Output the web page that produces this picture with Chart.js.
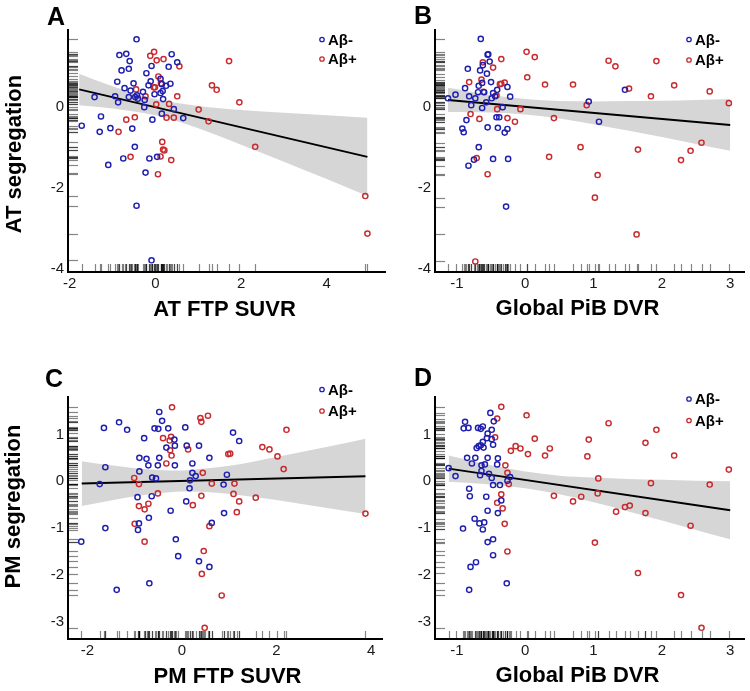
<!DOCTYPE html>
<html><head><meta charset="utf-8">
<script src="https://cdn.jsdelivr.net/npm/chart.js@4.4.1/dist/chart.umd.min.js"></script>
<style>
html,body{margin:0;padding:0;background:#fff;}
#wrap{position:relative;width:750px;height:691px;background:#fff;}
canvas{position:absolute;left:0;top:0;}
</style></head><body><div id="wrap">
<canvas id="cA" width="750" height="691"></canvas>
<canvas id="cB" width="750" height="691"></canvas>
<canvas id="cC" width="750" height="691"></canvas>
<canvas id="cD" width="750" height="691"></canvas>
</div>
<script>
// ---------- DATA ----------
const groups = ['Aβ-', 'Aβ+'];

// Panel A : AT FTP SUVR vs AT segregation
const aBlueX = [-0.44,-0.84,-0.68,-0.60,-0.62,-0.79,-0.89,-0.72,-0.51,-0.58,-1.42,-0.94,-0.87,-0.62,-0.47,-0.43,-0.41,-0.29,-0.21,-0.09,-0.16,-0.11,-0.02,-0.25,-0.26,0.38,0.51,0.31,0.12,0.15,0.25,0.35,0.17,0.12,0.18,0.43,0.65,0.15,-0.07,-1.27,-1.72,-1.30,-1.05,-0.54,-0.48,-0.75,-0.14,0.04,-1.10,-0.23,-0.44,-0.09];
const aBlueY = [1.68,1.29,1.32,1.14,0.95,0.91,0.63,0.47,0.59,0.41,0.25,0.27,0.12,0.25,0.25,0.29,0.21,0.38,0.84,1.02,0.54,0.64,0.32,0.18,0.00,1.31,1.11,1.00,0.70,0.57,0.53,0.58,0.40,0.35,0.20,-0.05,-0.27,-0.16,-0.31,-0.23,-0.46,-0.61,-0.52,-0.53,-0.98,-1.27,-1.27,-1.23,-1.43,-1.62,-2.44,-3.79];
const aRedX = [-0.03,-0.12,0.19,0.03,0.56,1.72,0.07,0.13,-0.04,-0.01,-0.45,-0.23,0.51,0.32,0.02,1.32,1.43,1.96,1.01,1.24,0.26,0.43,-0.48,-0.68,-0.86,0.16,0.18,0.21,0.12,0.37,-0.58,0.06,2.33,4.90,4.95];
const aRedY = [1.37,1.27,1.19,1.16,1.01,1.14,0.76,0.59,0.49,0.49,0.44,0.27,0.27,0.08,0.07,0.54,0.43,0.12,-0.06,-0.35,-0.26,-0.26,-0.25,-0.31,-0.61,-0.86,-1.05,-1.07,-1.22,-1.31,-1.23,-1.66,-0.98,-2.20,-3.13];
const aFitX = [-1.78, 4.95];
const aFitY = [0.44, -1.23];
const aBandX = [-1.78,-1,0,1,2,3,4,4.95];
const aBandLo = [0.05,-0.03,-0.20,-0.52,-0.93,-1.35,-1.78,-2.20];
const aBandHi = [0.83,0.52,0.20,0.03,-0.07,-0.14,-0.20,-0.26];
const aXTicks = [-2,0,2,4];
const aYTicks = [-4,-2,0];

// Panel B : Global PiB DVR vs AT segregation
const bBlueX = [-0.65,-0.55,-0.54,-0.52,-0.62,-0.84,-0.66,-0.56,-0.50,-0.63,-0.68,-0.88,-0.60,-0.69,-0.41,-0.26,-0.47,-0.44,-0.82,-1.02,-1.13,-0.73,-0.22,-0.49,-0.79,-0.57,-0.63,-0.33,-0.42,-0.38,-0.86,-0.55,-0.40,-0.26,-0.92,-0.90,-0.30,-0.68,-0.75,-0.47,-0.25,-0.83,-0.28,0.93,1.08,1.46];
const bBlueY = [1.69,1.30,1.31,1.13,1.04,0.95,0.91,0.83,0.62,0.60,0.53,0.47,0.37,0.37,0.43,0.50,0.35,0.27,0.27,0.31,0.22,0.22,0.26,0.22,0.05,0.12,-0.02,0.00,-0.25,-0.25,-0.32,-0.50,-0.51,-0.54,-0.53,-0.62,-0.63,-0.99,-1.30,-1.28,-1.28,-1.45,-2.46,0.14,-0.36,0.43];
const bRedX = [-0.62,-0.35,-0.47,-0.64,-0.82,-0.61,-0.37,-0.35,-0.30,-0.42,-0.41,-0.80,-0.67,-0.26,-0.15,-0.07,0.02,0.14,0.03,0.29,0.42,0.35,-0.71,-0.55,-0.73,0.70,0.90,0.81,1.06,1.02,1.22,1.32,1.52,1.84,1.92,2.18,2.70,2.98,1.65,2.28,2.42,2.58,1.63];
const bRedY = [1.11,1.19,0.98,0.68,0.62,0.38,0.57,0.58,0.61,0.29,-0.05,-0.17,-0.29,-0.27,-0.36,-0.05,1.37,1.24,0.74,0.56,-0.27,-1.23,-1.26,-1.66,-3.82,0.56,0.05,-0.99,-1.68,-2.24,1.15,1.01,0.46,0.27,1.14,0.54,0.39,0.10,-1.05,-1.31,-1.08,-0.88,-3.15];
const bFitX = [-1.13, 3.0];
const bFitY = [0.18, -0.44];
const bBandX = [-1.13,-0.5,0,0.5,1,1.5,2,2.5,3];
const bBandLo = [-0.12,-0.13,-0.18,-0.28,-0.42,-0.58,-0.74,-0.91,-1.08];
const bBandHi = [0.48,0.30,0.20,0.15,0.14,0.15,0.16,0.18,0.20];
const bXTicks = [-1,0,1,2,3];
const bYTicks = [-4,-2,0];

// Panel C : PM FTP SUVR vs PM segregation
const cBlueX = [-0.48,-0.42,-1.33,-1.65,-1.16,-0.58,-0.50,-0.29,0.07,1.08,1.21,-0.80,-0.16,-0.15,0.10,0.36,-0.33,-0.90,-0.75,-0.48,0.58,-0.71,-0.51,-0.15,0.22,-1.62,-0.90,0.22,0.29,0.95,-0.63,-0.55,0.17,-1.74,0.88,0.16,-0.94,-0.64,0.09,-0.24,-0.70,0.89,0.63,-0.91,-0.93,-1.62,-2.13,-0.13,-0.08,0.36,0.58,-0.69,-1.38];
const cBlueY = [1.48,1.29,1.26,1.14,1.10,1.13,1.12,1.13,1.15,1.04,0.86,0.92,0.89,0.76,0.76,0.76,0.72,0.50,0.48,0.50,0.50,0.34,0.34,0.34,0.38,0.30,0.21,0.18,0.11,0.14,0.08,0.06,0.02,-0.06,-0.07,-0.15,-0.34,-0.32,-0.43,-0.63,-0.78,-0.68,-0.89,-0.90,-1.04,-1.00,-1.29,-1.24,-1.60,-1.71,-1.83,-2.18,-2.32];
const cRedX = [-0.21,0.39,0.55,0.41,2.21,-0.40,-0.23,-0.26,-0.25,0.13,-0.22,-0.33,1.70,1.85,2.02,0.98,1.02,2.15,0.44,-1.01,-0.91,0.63,1.11,-0.51,1.09,0.41,1.56,-0.71,0.23,1.21,-0.91,-0.79,1.16,3.88,-1.00,0.58,-0.79,0.46,0.42,0.84,0.48];
const cRedY = [1.58,1.35,1.40,1.27,1.10,0.92,0.95,0.87,0.66,0.68,0.55,0.38,0.73,0.68,0.53,0.58,0.59,0.26,0.18,0.07,-0.06,-0.05,-0.05,-0.26,-0.27,-0.31,-0.35,-0.48,-0.51,-0.43,-0.53,-0.60,-0.66,-0.69,-0.91,-0.96,-1.29,-1.49,-1.98,-2.44,-3.13];
const cFitX = [-2.12, 3.88];
const cFitY = [-0.05, 0.107];
const cBandX = [-2.12,-1.5,-1,-0.5,0,0.5,1,2,3,3.88];
const cBandLo = [-0.53,-0.41,-0.32,-0.26,-0.22,-0.23,-0.27,-0.40,-0.56,-0.70];
const cBandHi = [0.43,0.34,0.28,0.24,0.23,0.27,0.33,0.52,0.72,0.91];
const cXTicks = [-2,0,2,4];
const cYTicks = [-3,-2,-1,0,1];

// Panel D : Global PiB DVR vs PM segregation
const dBlueX = [-0.51,-0.88,-0.46,-0.90,-0.83,-0.69,-0.65,-0.62,-0.49,-0.55,-0.56,-0.49,-0.62,-0.47,-0.65,-0.68,-0.71,-0.61,-0.85,-0.73,-0.55,-0.40,-0.78,-0.64,-0.59,-0.41,-1.12,-0.64,-0.53,-1.02,-0.66,-0.49,-0.22,-0.26,-0.47,-0.37,-0.82,-0.81,-0.57,-0.35,-0.55,-0.40,-0.74,-0.67,-0.60,-0.91,-0.62,-0.47,-0.55,-0.47,-0.72,-0.80,-0.27,-0.82];
const dBlueY = [1.46,1.27,1.28,1.13,1.14,1.14,1.12,1.17,1.10,1.02,0.92,0.90,0.84,0.78,0.77,0.75,0.71,0.72,0.50,0.50,0.50,0.49,0.38,0.34,0.36,0.36,0.28,0.22,0.16,0.11,0.13,0.07,0.09,0.01,-0.08,-0.08,-0.16,-0.32,-0.33,-0.41,-0.63,-0.68,-0.80,-0.90,-0.88,-1.01,-1.03,-1.24,-1.30,-1.58,-1.73,-1.83,-2.18,-2.32];
const dRedX = [-0.35,0.02,-0.41,1.22,1.92,-0.44,0.14,0.93,1.76,-0.14,-0.07,-0.21,0.36,0.04,0.29,0.91,2.18,-0.29,2.98,-0.26,1.07,-0.24,1.84,2.70,-0.35,0.42,1.06,0.82,-0.41,0.70,-0.33,1.33,1.46,1.53,1.76,-0.30,2.42,1.02,-0.26,1.65,2.28,2.58];
const dRedY = [1.59,1.41,1.34,1.24,1.10,0.94,0.91,0.89,0.82,0.75,0.70,0.65,0.70,0.58,0.55,0.53,0.55,0.34,0.25,0.18,0.06,-0.06,-0.04,-0.07,-0.28,-0.31,-0.26,-0.33,-0.46,-0.43,-0.58,-0.65,-0.55,-0.52,-0.68,-0.91,-0.95,-1.31,-1.50,-1.96,-2.43,-3.13];
const dFitX = [-1.12, 3.0];
const dFitY = [0.27, -0.62];
const dBandX = [-1.12,-0.5,0,0.5,1,1.5,2,2.5,3];
const dBandLo = [-0.01,-0.07,-0.15,-0.28,-0.45,-0.64,-0.84,-1.04,-1.24];
const dBandHi = [0.55,0.34,0.21,0.12,0.08,0.05,0.03,0.01,0.00];
const dXTicks = [-1,0,1,2,3];
const dYTicks = [-3,-2,-1,0,1];

// ---------- RENDER ----------
const FONT = '"Liberation Sans", Arial, Helvetica, sans-serif';
const BLUE = '#1f1fae';
const RED = '#c92a2e';
const W = 750, H = 691;

function toPts(xs, ys) { return xs.map((x, i) => ({ x: x, y: ys[i] })); }

function rugPlugin(xs, ys) {
  return {
    id: 'rug',
    beforeDatasetsDraw(chart) {
      const { ctx, chartArea: a, scales } = chart;
      ctx.save();
      ctx.strokeStyle = 'rgba(0,0,0,0.48)';
      ctx.lineWidth = 1.2;
      xs.forEach(v => {
        const px = Math.round(scales.x.getPixelForValue(v)) + 0.5;
        ctx.beginPath(); ctx.moveTo(px, a.bottom - 1); ctx.lineTo(px, a.bottom - 8); ctx.stroke();
      });
      ys.forEach(v => {
        const py = Math.round(scales.y.getPixelForValue(v)) + 0.5;
        ctx.beginPath(); ctx.moveTo(a.left + 1, py); ctx.lineTo(a.left + 10, py); ctx.stroke();
      });
      ctx.restore();
    }
  };
}

function decoPlugin(o) {
  return {
    id: 'deco',
    afterDraw(chart) {
      const ctx = chart.ctx;
      ctx.save();
      ctx.fillStyle = '#000';
      ctx.font = 'bold 25px ' + FONT;
      ctx.textAlign = 'left';
      ctx.textBaseline = 'alphabetic';
      ctx.fillText(o.letter, o.letterPos[0], o.letterPos[1]);
      ctx.font = 'bold 22px ' + FONT;
      ctx.textAlign = 'center';
      ctx.textBaseline = 'middle';
      ctx.fillText(o.xTitle, o.xTitlePos[0], o.xTitlePos[1]);
      if (o.yTitle) {
        ctx.save();
        ctx.translate(o.yTitlePos[0], o.yTitlePos[1]);
        ctx.rotate(-Math.PI / 2);
        ctx.fillText(o.yTitle, 0, 0);
        ctx.restore();
      }
      const cols = [BLUE, RED];
      ctx.font = 'bold 15px ' + FONT;
      ctx.textAlign = 'left';
      for (let i = 0; i < 2; i++) {
        const mx = o.legendPos[0], my = o.legendPos[1] + i * o.legendGap;
        ctx.beginPath();
        ctx.arc(mx, my, 2.2, 0, Math.PI * 2);
        ctx.strokeStyle = cols[i];
        ctx.lineWidth = 1.3;
        ctx.stroke();
        ctx.fillStyle = '#000';
        ctx.fillText(groups[i], mx + 6, my + 1);
      }
      ctx.restore();
    }
  };
}

function panel(id, o) {
  const Wy = 30, Hx = 25;
  const ptStyle = { pointRadius: 2.6, pointBorderWidth: 1.45, pointBackgroundColor: 'rgba(0,0,0,0)', showLine: false };
  new Chart(document.getElementById(id), {
    type: 'scatter',
    data: {
      datasets: [
        Object.assign({ label: groups[0], data: toPts(o.bx, o.by), borderColor: BLUE, pointBorderColor: BLUE, backgroundColor: 'rgba(0,0,0,0)', order: 0 }, ptStyle),
        Object.assign({ label: groups[1], data: toPts(o.rx, o.ry), borderColor: RED, pointBorderColor: RED, backgroundColor: 'rgba(0,0,0,0)', order: 0 }, ptStyle),
        { type: 'line', label: 'fit', data: toPts(o.fx, o.fy), borderColor: '#000', borderWidth: 2, pointRadius: 0, fill: false, order: 1 },
        { type: 'line', label: 'ci-lo', data: toPts(o.cx, o.clo), borderColor: 'rgba(0,0,0,0)', borderWidth: 1, pointRadius: 0, fill: false, cubicInterpolationMode: 'monotone', order: 2 },
        { type: 'line', label: 'ci-hi', data: toPts(o.cx, o.chi), borderColor: 'rgba(0,0,0,0)', borderWidth: 1, pointRadius: 0, fill: '-1', backgroundColor: 'rgba(153,153,153,0.4)', cubicInterpolationMode: 'monotone', order: 2 }
      ]
    },
    options: {
      responsive: false,
      animation: false,
      devicePixelRatio: 1,
      events: [],
      layout: { padding: { left: o.area.l - Wy, top: o.area.t, right: W - o.area.r, bottom: H - o.area.b - Hx } },
      plugins: { legend: { display: false }, tooltip: { enabled: false } },
      scales: {
        x: {
          type: 'linear', position: 'bottom', min: o.xmin, max: o.xmax,
          grid: { display: false, drawTicks: false },
          border: { display: true, color: '#000', width: 2 },
          ticks: { color: '#1a1a1a', font: { family: FONT, size: 15 }, padding: 3, autoSkip: false, maxRotation: 0, callback: v => String(v) },
          afterBuildTicks: s => { s.ticks = o.xt.map(v => ({ value: v })); },
          afterFit: s => { s.height = Hx; }
        },
        y: {
          type: 'linear', position: 'left', min: o.ymin, max: o.ymax,
          grid: { display: false, drawTicks: false },
          border: { display: true, color: '#000', width: 2 },
          ticks: { color: '#1a1a1a', font: { family: FONT, size: 15 }, padding: 4, autoSkip: false, callback: v => String(v) },
          afterBuildTicks: s => { s.ticks = o.yt.map(v => ({ value: v })); },
          afterFit: s => { s.width = Wy; }
        }
      }
    },
    plugins: [rugPlugin(o.bx.concat(o.rx), o.by.concat(o.ry)), decoPlugin(o)]
  });
}

panel('cA', {
  bx: aBlueX, by: aBlueY, rx: aRedX, ry: aRedY, fx: aFitX, fy: aFitY, cx: aBandX, clo: aBandLo, chi: aBandHi,
  xt: aXTicks, yt: aYTicks, xmin: -2.04, xmax: 5.36, ymin: -4.08, ymax: 1.91,
  area: { l: 68, t: 30, r: 385, b: 272 },
  letter: 'A', letterPos: [47, 25], xTitle: 'AT FTP SUVR', xTitlePos: [224.5, 309.5],
  yTitle: 'AT segregation', yTitlePos: [15, 154], legendPos: [322, 39.5], legendGap: 19.5
});
panel('cB', {
  bx: bBlueX, by: bBlueY, rx: bRedX, ry: bRedY, fx: bFitX, fy: bFitY, cx: bBandX, clo: bBandLo, chi: bBandHi,
  xt: bXTicks, yt: bYTicks, xmin: -1.32, xmax: 3.21, ymin: -4.08, ymax: 1.91,
  area: { l: 435, t: 30, r: 750, b: 272 },
  letter: 'B', letterPos: [414, 24], xTitle: 'Global PiB DVR', xTitlePos: [577.5, 308.5],
  yTitle: null, legendPos: [689, 39.5], legendGap: 20.5
});
panel('cC', {
  bx: cBlueX, by: cBlueY, rx: cRedX, ry: cRedY, fx: cFitX, fy: cFitY, cx: cBandX, clo: cBandLo, chi: cBandHi,
  xt: cXTicks, yt: cYTicks, xmin: -2.41, xmax: 4.23, ymin: -3.37, ymax: 1.80,
  area: { l: 68, t: 397, r: 382, b: 639 },
  letter: 'C', letterPos: [45, 387], xTitle: 'PM FTP SUVR', xTitlePos: [227.5, 676.5],
  yTitle: 'PM segregation', yTitlePos: [13.5, 506.5], legendPos: [322, 389.5], legendGap: 21.5
});
panel('cD', {
  bx: dBlueX, by: dBlueY, rx: dRedX, ry: dRedY, fx: dFitX, fy: dFitY, cx: dBandX, clo: dBandLo, chi: dBandHi,
  xt: dXTicks, yt: dYTicks, xmin: -1.32, xmax: 3.21, ymin: -3.37, ymax: 1.80,
  area: { l: 435, t: 397, r: 750, b: 639 },
  letter: 'D', letterPos: [414, 386], xTitle: 'Global PiB DVR', xTitlePos: [577.5, 676],
  yTitle: null, legendPos: [689, 399], legendGap: 21.5
});
</script>
</body></html>
